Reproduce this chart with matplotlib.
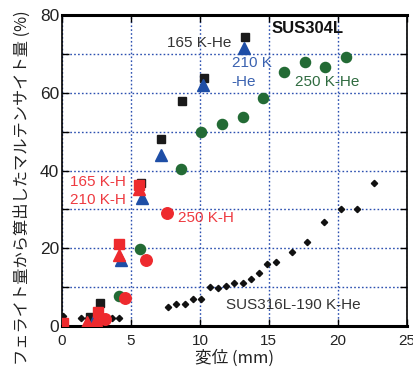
import matplotlib
matplotlib.use("Agg")
import matplotlib.pyplot as plt
from matplotlib.ticker import MultipleLocator

plt.rcParams['font.family'] = ['Liberation Sans Narrow', 'Liberation Sans', 'Noto Sans CJK JP', 'DejaVu Sans']

# SUS304L, 165 K-He (black squares)
he165_x = [0.0, 2.0, 2.75, 5.7, 7.2, 8.7, 10.3, 13.25]
he165_y = [0.0, 2.3, 5.8, 36.8, 48.0, 57.8, 63.8, 74.3]
# SUS304L, 210 K-He (blue triangles)
he210_x = [0.0, 2.3, 4.3, 5.8, 7.2, 10.2, 13.2]
he210_y = [0.0, 1.5, 17.0, 32.9, 44.0, 62.0, 71.5]
# SUS304L, 250 K-He (green circles)
he250_x = [4.1, 5.65, 8.6, 10.1, 11.6, 13.1, 14.6, 16.1, 17.6, 19.05, 20.6]
he250_y = [7.7, 19.8, 40.4, 49.8, 51.9, 53.7, 58.6, 65.3, 67.9, 66.6, 69.2]
# SUS304L, 250 K-H (red circles)
h250_x = [0.0, 3.1, 4.6, 6.1, 7.6]
h250_y = [0.0, 1.8, 7.2, 17.0, 29.0]
# SUS304L, 165 K-H (red squares)
h165_x = [0.1, 2.6, 4.1, 5.6]
h165_y = [0.8, 3.6, 21.0, 36.2]
# SUS304L, 210 K-H (red triangles)
h210_x = [0.1, 1.85, 2.5, 4.1, 5.6]
h210_y = [0.6, 1.0, 1.5, 18.3, 35.3]
# SUS316L-190 K-He (small black diamonds)
s316_x = [0.1, 1.4, 1.9, 2.4, 3.0, 3.6, 4.15, 7.7, 8.3, 8.9, 9.5, 10.1, 10.7, 11.3,
          11.9, 12.5, 13.1, 13.7, 14.3, 14.9, 15.5, 16.7, 17.8, 19.0, 20.2, 21.4, 22.6]
s316_y = [2.6, 2.1, 2.0, 2.0, 2.0, 2.0, 2.0, 4.9, 5.6, 5.6, 6.9, 6.9, 10.0, 9.7,
          10.3, 11.0, 11.0, 12.1, 13.6, 16.0, 16.5, 19.1, 21.6, 26.7, 30.1, 30.1, 36.8]

x_ticks = [0, 5, 10, 15, 20, 25]
y_ticks = [0, 20, 40, 60, 80]

fig = plt.figure(figsize=(4.13, 3.70), dpi=100)
ax = fig.add_axes([0.150, 0.119, 0.835, 0.840])

ax.plot(s316_x, s316_y, 'D', color='#111111', markersize=3.2, linestyle='none', zorder=3)
ax.plot(he165_x, he165_y, 's', color='#1a1a1a', markersize=6.2, linestyle='none', zorder=4)
ax.plot(he210_x, he210_y, '^', color='#1e4ea6', markersize=8, linestyle='none', zorder=4)
ax.plot(he250_x, he250_y, 'o', color='#236b35', markersize=7.3, linestyle='none', zorder=4)
ax.plot(h250_x, h250_y, 'o', color='#ee2a2e', markersize=8.3, linestyle='none', zorder=5)
ax.plot(h165_x, h165_y, 's', color='#ee2a2e', markersize=7.5, linestyle='none', zorder=5)
ax.plot(h210_x, h210_y, '^', color='#ee2a2e', markersize=9, linestyle='none', zorder=6)

ax.set_xlim(0, 25)
ax.set_ylim(0, 80)
ax.set_xticks(x_ticks)
ax.set_yticks(y_ticks)
ax.yaxis.set_minor_locator(MultipleLocator(10))

grid_kw = dict(color='#2c50b0', linestyle=(0, (1.2, 1.6)), linewidth=1.0)
ax.xaxis.grid(True, which='major', **grid_kw)
ax.yaxis.grid(True, which='both', **grid_kw)
ax.set_axisbelow(True)

ax.tick_params(axis='both', which='both', direction='in', top=True, right=True,
               length=5, width=1, color='black', labelcolor='#222222')
ax.tick_params(axis='x', labelsize=11, pad=6)
ax.tick_params(axis='y', labelsize=12.5, pad=2)

for s in ['left', 'right']:
    ax.spines[s].set_linewidth(1.2)
for s in ['top', 'bottom']:
    ax.spines[s].set_linewidth(2.2)

ax.set_xlabel('変位 (mm)', fontsize=12, family=['Noto Sans CJK JP', 'DejaVu Sans'],
              labelpad=1, color='#222222')
fig.text(22 / 413, 1 - 188 / 370, 'フェライト量から算出したマルテンサイト量 (%)', fontsize=11.7,
         family=['Noto Sans CJK JP', 'DejaVu Sans'], rotation=90, ha='center', va='center',
         color='#222222')

fs = 11
ax.text(12.3, 72.8, '165 K-He', color='#333333', fontsize=fs, ha='right', va='center')
ax.text(12.3, 67.8, '210 K', color='#3a62b0', fontsize=fs, ha='left', va='center')
ax.text(12.3, 62.8, '-He', color='#3a62b0', fontsize=fs, ha='left', va='center')
ax.text(16.9, 62.8, '250 K-He', color='#2f6b40', fontsize=fs, ha='left', va='center')
ax.text(15.2, 76.5, 'SUS304L', color='#111111', fontsize=12, fontweight='bold', ha='left', va='center')
ax.text(0.6, 37.0, '165 K-H', color='#ee3a40', fontsize=fs, ha='left', va='center')
ax.text(0.6, 32.4, '210 K-H', color='#ee3a40', fontsize=fs, ha='left', va='center')
ax.text(8.4, 27.8, '250 K-H', color='#ee3a40', fontsize=fs, ha='left', va='center')
ax.text(11.9, 5.4, 'SUS316L-190 K-He', color='#333333', fontsize=fs, ha='left', va='center')

fig.savefig('out.png', dpi=100)
